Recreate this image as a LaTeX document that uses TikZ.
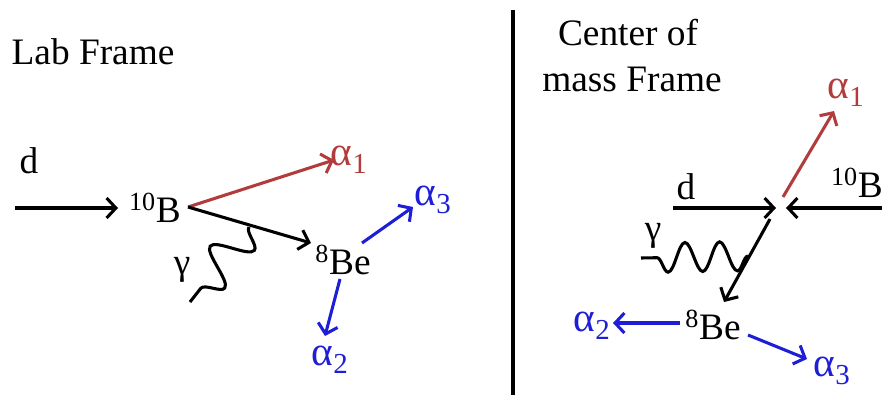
\documentclass[tikz,border=0pt]{standalone}
\usepackage{fontspec}
\setmainfont{Liberation Serif}
\usetikzlibrary{arrows.meta,decorations.pathmorphing}
\definecolor{ared}{RGB}{178,60,60}
\definecolor{ablue}{RGB}{30,30,215}
\begin{document}
\begin{tikzpicture}[x=0.75pt,y=-0.75pt,
  lbl/.style={inner sep=0pt,font=\fontsize{28}{32}\selectfont},
  albl/.style={inner sep=0pt,font=\fontsize{31}{34}\selectfont},
  arr/.style={line width=2.3pt,-{Straight Barb[length=7pt,width=15pt,line width=2.3pt]}},
  wave/.style={line width=2.3pt,decorate,decoration={snake,amplitude=#1,segment length=\wseg,pre length=0pt,post length=0pt}}]
\useasboundingbox (0,0) rectangle (882,400);
% divider
\coordinate (divtop) at (513,10);
\coordinate (divbot) at (513,395);
\draw[line width=3pt] (divtop) -- (divbot);

% ---- Lab frame ----
\node[lbl] (labtitle) at (93,52) {Lab Frame};
\node[lbl] (dL) at (29,161) {d};
\node[lbl] (BL) at (155,208) {\textsuperscript{10}B};
\node[albl,ared] (a1L) at (349,160) {α\textsubscript{1}};
\node[lbl] (BeL) at (343,260) {\textsuperscript{8}Be};
\node[albl,ablue] (a3L) at (433,200) {α\textsubscript{3}};
\node[albl,ablue] (a2L) at (330,360) {α\textsubscript{2}};
\node[lbl] (gL) at (182,270) {γ};
\coordinate (dLs) at (15,208);
\coordinate (dLe) at (118,208);
\coordinate (vL) at (188,207);
\coordinate (a1Le) at (334,160);
\coordinate (BeLe) at (311,243);
\coordinate (a3Ls) at (362,243);
\coordinate (a3Le) at (413,207);
\coordinate (a2Ls) at (340,279);
\coordinate (a2Le) at (325,336);
\coordinate (gLs) at (249,227);
\coordinate (gLe) at (190,302);
\draw[arr] (dLs) -- (dLe);
\draw[arr,ared] (vL) -- (a1Le);
\draw[arr] (vL) -- (BeLe);
\draw[arr,ablue] (a3Ls) -- (a3Le);
\draw[arr,ablue] (a2Ls) -- (a2Le);
\def\wseg{36pt}
\draw[wave=14pt] (gLs) -- (gLe);

% ---- Center of mass frame ----
\node[lbl] (cmt1) at (628,33) {Center of};
\node[lbl] (cmt2) at (632,79) {mass Frame};
\node[lbl] (dR) at (686,187) {d};
\node[lbl] (BR) at (857,183) {\textsuperscript{10}B};
\node[albl,ared] (a1R) at (846,93) {α\textsubscript{1}};
\node[lbl] (BeR) at (713,325) {\textsuperscript{8}Be};
\node[albl,ablue] (a2R) at (592,326) {α\textsubscript{2}};
\node[albl,ablue] (a3R) at (832,371) {α\textsubscript{3}};
\node[lbl] (gR) at (653,236) {γ};
\coordinate (dRs) at (673,208);
\coordinate (dRe) at (776,208);
\coordinate (BRs) at (882,208);
\coordinate (BRe) at (786,208);
\coordinate (a1Rs) at (783,197);
\coordinate (a1Re) at (834,111);
\coordinate (BeRs) at (770,219);
\coordinate (BeRe) at (724,302);
\coordinate (a2Rs) at (680,323);
\coordinate (a2Re) at (613,323);
\coordinate (a3Rs) at (748,335);
\coordinate (a3Re) at (807,359);
\coordinate (gRs) at (748,256);
\coordinate (gRe) at (641,258);
\draw[arr] (dRs) -- (dRe);
\draw[arr] (BRs) -- (BRe);
\draw[arr,ared] (a1Rs) -- (a1Re);
\draw[arr] (BeRs) -- (BeRe);
\draw[arr,ablue] (a2Rs) -- (a2Re);
\draw[arr,ablue] (a3Rs) -- (a3Re);
\def\wseg{26pt}
\draw[wave=11pt] (gRs) -- (gRe);
\end{tikzpicture}
\end{document}
